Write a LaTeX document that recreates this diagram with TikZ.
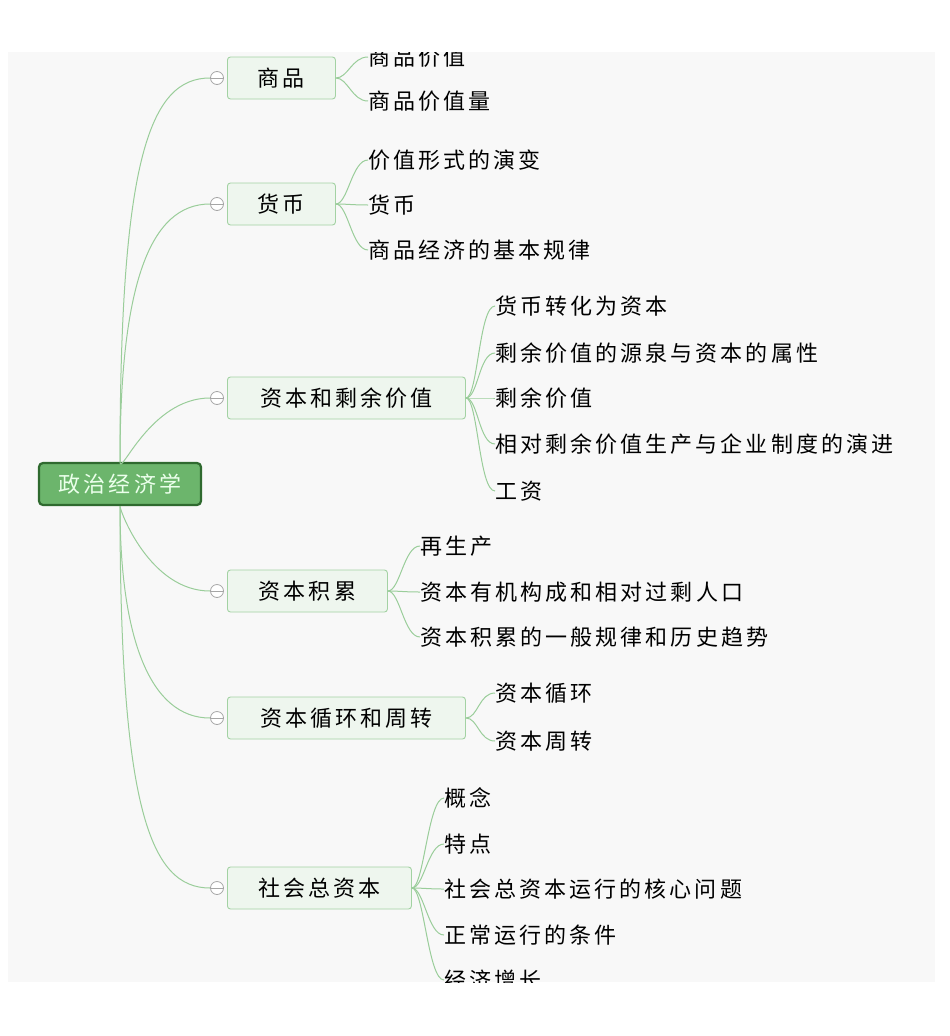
\documentclass[tikz,border=0pt]{standalone}
\usepackage{fontspec}
\usetikzlibrary{calc}
\newfontfamily\cjk[LetterSpace=14]{Noto Sans CJK SC}
\definecolor{bg}{HTML}{F8F8F8}
\definecolor{ln}{HTML}{9ACD9A}
\definecolor{bfill}{HTML}{EEF6EE}
\definecolor{bdraw}{HTML}{A3D2A3}
\definecolor{rfill}{HTML}{6CB56C}
\definecolor{rdraw}{HTML}{2F6A2F}
\begin{document}
\begin{tikzpicture}[x=1pt,y=-1pt,
  txt/.style={font=\cjk\fontsize{22}{22}\selectfont},
  leaf/.style={txt,anchor=west,inner sep=0pt},
  br/.style={txt,draw=bdraw,fill=bfill,rounded corners=3pt,line width=0.9pt,minimum height=42pt,anchor=west,inner sep=0pt},
  con/.style={draw=ln,line width=1pt},
  col/.style={circle,draw=gray!70,fill=white,line width=0.8pt,minimum size=13pt,inner sep=0pt}]
\useasboundingbox (0,0) rectangle (950,1036);
\fill[white] (0,0) rectangle (950,1036);
\begin{scope}
\clip (8,52) rectangle (935,982);
\fill[bg] (8,52) rectangle (935,982);
\node[draw=rdraw,fill=rfill,line width=2.2pt,rounded corners=4pt,minimum width=162pt,minimum height=42pt,font=\cjk\fontsize{22}{22}\selectfont,text=white!92!green] (root) at (120,484) {政治经济学};
\foreach \nm/\y/\w/\lab in {a/78/108/商品, b/204/108/货币, c/398/238/资本和剩余价值, d/591/160/资本积累, e/718/238/资本循环和周转, f/888/184/社会总资本}{
  \node[br,minimum width=\w pt] (\nm) at (227,\y) {\lab};
  \ifdim\y pt<484pt
    \draw[con] (root.north) .. controls (120,\y+80) and (150,\y) .. (210,\y);
  \else
    \draw[con] (root.south) .. controls (120,\y-80) and (150,\y) .. (210,\y);
  \fi
  \node[col] (\nm c) at (217,\y) {};
  \draw[gray!70,line width=0.8pt] (\nm c.west) -- (\nm c.east);
}
\foreach \p/\lx/\ly/\t in {a/368/57/商品价值, a/368/101/商品价值量,
  b/368/160/价值形式的演变, b/368/205/货币, b/368/250/商品经济的基本规律,
  c/495/306/货币转化为资本, c/495/353/剩余价值的源泉与资本的属性, c/495/398/剩余价值, c/495/444/相对剩余价值生产与企业制度的演进, c/495/491/工资,
  d/420/546/再生产, d/420/592/资本有机构成和相对过剩人口, d/420/637/资本积累的一般规律和历史趋势,
  e/495/693/资本循环, e/495/741/资本周转,
  f/444/798/概念, f/444/844/特点, f/444/889/社会总资本运行的核心问题, f/444/935/正常运行的条件, f/444/980/经济增长}{
  \node[leaf] (L\lx-\ly) at (\lx,\ly) {\t};
  \draw[con] (\p.east) .. controls ($(\p.east)+(12,0)$) and (\lx-16,\ly) .. (L\lx-\ly.west);
}
\end{scope}
\end{tikzpicture}
\end{document}
